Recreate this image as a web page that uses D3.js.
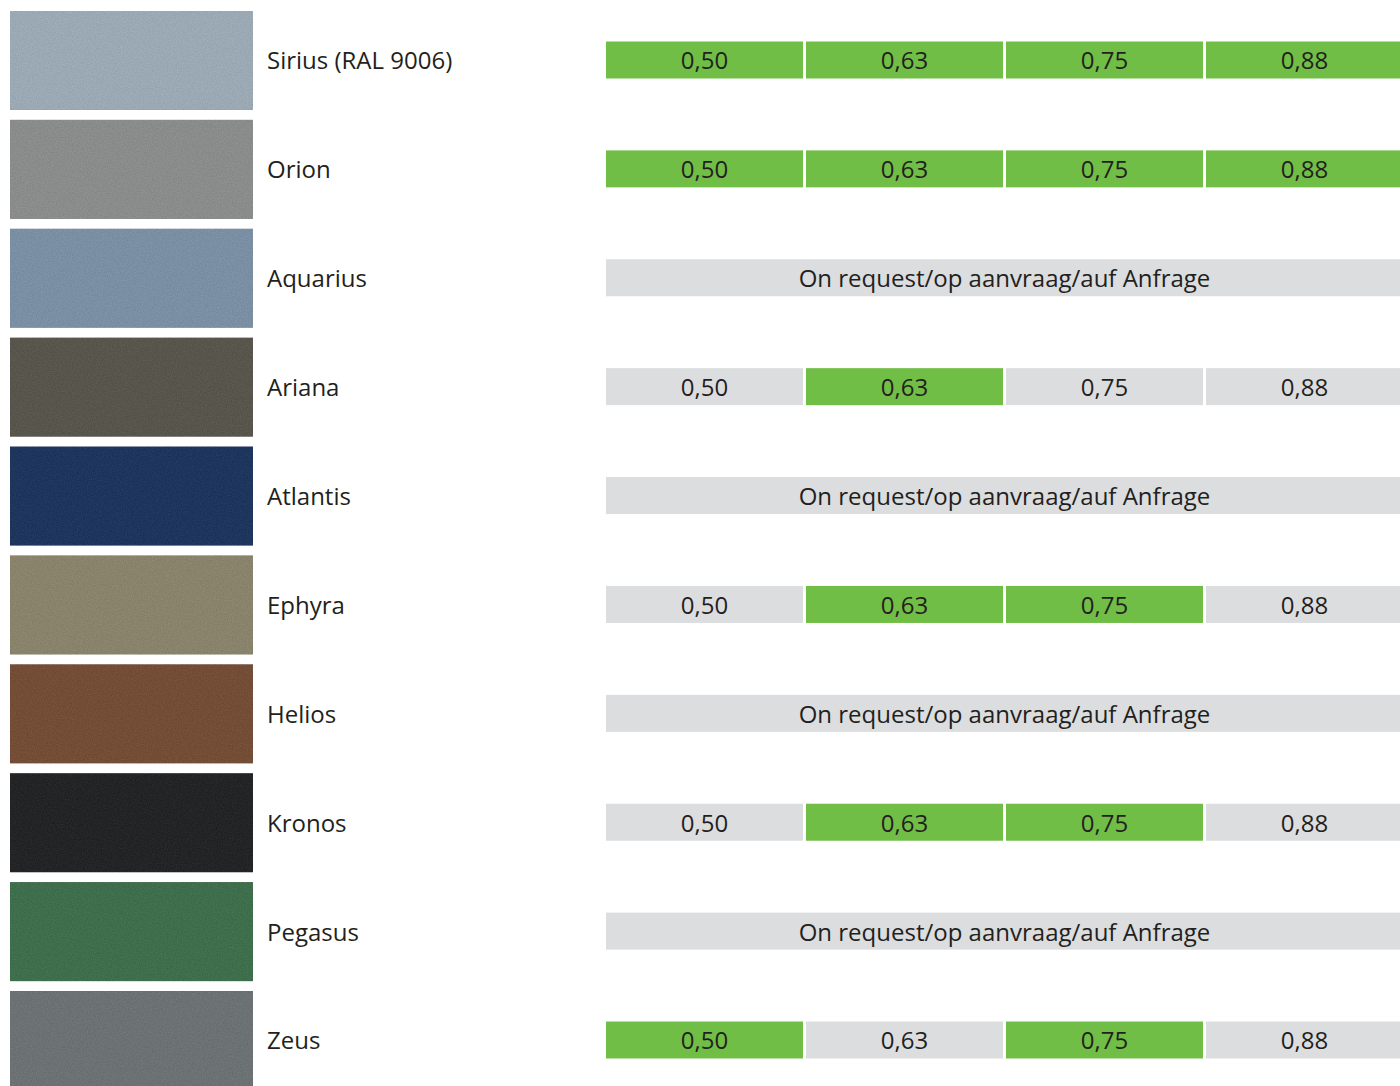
<!DOCTYPE html>
<html>
<head>
<meta charset="utf-8">
<script src="https://cdn.jsdelivr.net/npm/d3@7"></script>
<style>
  html, body { margin: 0; padding: 0; background: #fff; }
  svg { display: block; }
</style>
</head>
<body>
<div id="chart"></div>
<script>
const names = ['Sirius (RAL 9006)', 'Orion', 'Aquarius', 'Ariana', 'Atlantis',
  'Ephyra', 'Helios', 'Kronos', 'Pegasus', 'Zeus'];
const swatchColors = ['#9aa9b4', '#8a8c8c', '#7a8fa3', '#58554d', '#1e365d',
  '#8a836c', '#744d37', '#232425', '#3e6e4c', '#6c7274'];
const thicknesses = ['0,50', '0,63', '0,75', '0,88'];
// 1 = available, 0 = not, null = on request
const availability = [
  [1, 1, 1, 1],
  [1, 1, 1, 1],
  null,
  [0, 1, 0, 0],
  null,
  [0, 1, 1, 0],
  null,
  [0, 1, 1, 0],
  null,
  [1, 0, 1, 0]
];
const requestText = 'On request/op aanvraag/auf Anfrage';

const width = 1400, height = 1086;
const green = '#70be45', grey = '#dcddde', ink = '#231f20';
const font = '"Open Sans", sans-serif';
const fontSize = '24px';

const svg = d3.select('#chart').append('svg')
  .attr('width', width)
  .attr('height', height);

// fine grain on the swatches, centred so colours stay the same on average
const f = svg.append('defs').append('filter').attr('id', 'grain')
  .attr('x', 0).attr('y', 0).attr('width', 1).attr('height', 1)
  .attr('color-interpolation-filters', 'sRGB');
f.append('feTurbulence')
  .attr('type', 'fractalNoise')
  .attr('baseFrequency', 0.8)
  .attr('numOctaves', 2)
  .attr('result', 'noise');
f.append('feColorMatrix')
  .attr('in', 'noise')
  .attr('type', 'matrix')
  .attr('values', '1 0 0 0 0  1 0 0 0 0  1 0 0 0 0  0 0 0 0 1')
  .attr('result', 'gray');
f.append('feComposite')
  .attr('in', 'SourceGraphic')
  .attr('in2', 'gray')
  .attr('operator', 'arithmetic')
  .attr('k1', 0).attr('k2', 1).attr('k3', 0.1).attr('k4', -0.05);

const y = d3.scaleBand()
  .domain(names)
  .range([11, 1090])
  .paddingInner(0.091);

const x = d3.scaleBand()
  .domain(thicknesses)
  .range([606, 1403])
  .paddingInner(0.015);

const barH = 37;

const rows = svg.selectAll('.row')
  .data(names)
  .enter()
  .append('g')
  .classed('row', true)
  .attr('transform', d => `translate(0,${y(d)})`);

rows.append('rect')
  .attr('x', 10)
  .attr('width', 243)
  .attr('height', y.bandwidth())
  .style('fill', (d, i) => swatchColors[i])
  .attr('filter', 'url(#grain)');

const mid = y.bandwidth() / 2 - 0.5;

rows.append('text')
  .attr('x', 267)
  .attr('y', mid + 1)
  .attr('dy', '0.35em')
  .style('font-family', font)
  .style('font-size', fontSize)
  .style('fill', ink)
  .text(d => d);

rows.each(function(d, i) {
  const g = d3.select(this);
  const avail = availability[i];
  if (avail === null) {
    g.append('rect')
      .attr('x', x.range()[0])
      .attr('y', mid - barH / 2)
      .attr('width', x.range()[1] - x.range()[0])
      .attr('height', barH)
      .style('fill', grey);
    g.append('text')
      .attr('x', (x.range()[0] + x.range()[1]) / 2)
      .attr('y', mid + 1)
      .attr('dy', '0.35em')
      .attr('text-anchor', 'middle')
      .style('font-family', font)
      .style('font-size', fontSize)
      .style('fill', ink)
      .text(requestText);
  } else {
    const cells = g.selectAll('.cell')
      .data(thicknesses)
      .enter()
      .append('g')
      .classed('cell', true);
    cells.append('rect')
      .attr('x', t => x(t))
      .attr('y', mid - barH / 2)
      .attr('width', x.bandwidth())
      .attr('height', barH)
      .style('fill', (t, j) => avail[j] ? green : grey);
    cells.append('text')
      .attr('x', t => x(t) + x.bandwidth() / 2)
      .attr('y', mid + 1)
      .attr('dy', '0.35em')
      .attr('text-anchor', 'middle')
      .style('font-family', font)
      .style('font-size', fontSize)
      .style('fill', ink)
      .text(t => t);
  }
});
</script>
</body>
</html>
